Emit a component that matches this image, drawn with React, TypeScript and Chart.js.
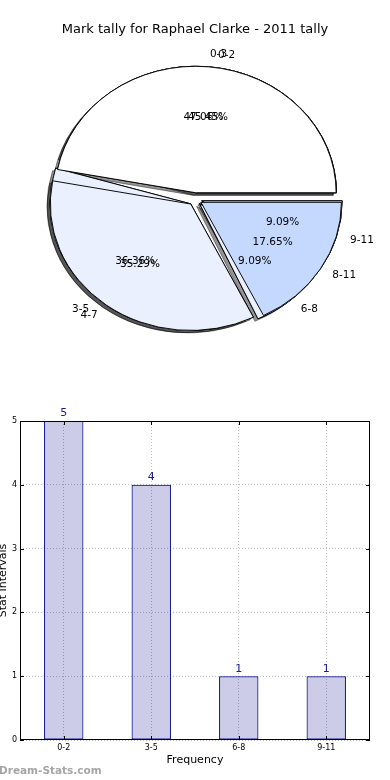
import React, { useEffect, useRef } from 'react';
import { Chart, registerables } from 'chart.js';

Chart.register(...registerables);

// ---------- data ----------
const chartTitle = 'Mark tally for Raphael Clarke - 2011 tally';
const intervalsA = ['0-2', '3-5', '6-8', '9-11'];
const tallyA = [5, 4, 1, 1];
const coloursA = ['#ffffff', '#eaf0fe', '#eaf0fe', '#c5d9fe'];
const intervalsB = ['0-3', '4-7', '8-11'];
const tallyB = [8, 6, 3];
const coloursB = ['#ffffff', '#eaf0fe', '#c5d9fe'];
const yTickValues = [0, 1, 2, 3, 4, 5];
const xAxisTitle = 'Frequency';
const yAxisTitle = 'Stat Intervals';
const watermark = 'Dream-Stats.com';

// ---------- style ----------
const FONT = '"DejaVu Sans", sans-serif';
const PIE_W = 390;
const PIE_H = 398;
const PIE_R = 140.5;
const PIE_SY = 0.9;
const EXPLODE = 7;
const BAR_H = 382;

// pies are drawn counter-clockwise from east like the original, so the
// slice order is reversed for Chart.js (clockwise, rotation 90 = east)
const rev = <T,>(a: T[]) => [...a].reverse();
const pieLabels = [rev(intervalsA), rev(intervalsB)];
const pieValues = [rev(tallyA), rev(tallyB)];
const pieColours = [rev(coloursA), rev(coloursB)];

const piePlugin = {
  id: 'explodedEllipsePies',
  beforeDatasetsDraw(chart: any) {
    const ctx = chart.ctx;
    const metas = pieValues.map((_v, i) => chart.getDatasetMeta(i));
    const drawArc = (arc: any, shadow: boolean) => {
      const p = arc.getProps(['x', 'y', 'startAngle', 'endAngle'], true);
      const mid = (p.startAngle + p.endAngle) / 2;
      ctx.save();
      if (shadow) {
        ctx.shadowColor = 'rgba(0,0,0,0.42)';
        ctx.shadowOffsetX = -3;
        ctx.shadowOffsetY = 2.5;
        ctx.shadowBlur = 0;
      }
      ctx.translate(0, p.y);
      ctx.scale(1, PIE_SY);
      ctx.translate(0, -p.y);
      ctx.translate(Math.cos(mid) * EXPLODE, Math.sin(mid) * EXPLODE);
      const inR = arc.innerRadius;
      const outR = arc.outerRadius;
      arc.innerRadius = 0;
      arc.outerRadius = PIE_R;
      arc.draw(ctx);
      arc.innerRadius = inR;
      arc.outerRadius = outR;
      ctx.restore();
    };
    metas.forEach((m: any) => m.data.forEach((a: any) => drawArc(a, true)));
    metas.forEach((m: any) => m.data.forEach((a: any) => drawArc(a, false)));
  },
  beforeDatasetDraw() {
    return false;
  },
  afterDatasetsDraw(chart: any) {
    const ctx = chart.ctx;
    ctx.save();
    ctx.font = `10.5px ${FONT}`;
    ctx.fillStyle = '#000';
    ctx.textBaseline = 'middle';
    pieValues.forEach((values, d) => {
      const total = values.reduce((a, b) => a + b, 0);
      const meta = chart.getDatasetMeta(d);
      meta.data.forEach((arc: any, i: number) => {
        const p = arc.getProps(['x', 'y', 'startAngle', 'endAngle'], true);
        const mid = (p.startAngle + p.endAngle) / 2;
        const c = Math.cos(mid);
        const s = Math.sin(mid);
        const lr = EXPLODE + 1.1 * PIE_R;
        ctx.textAlign = c > 0 ? 'left' : 'right';
        ctx.fillText(pieLabels[d][i], p.x + c * lr, p.y + s * lr * PIE_SY);
        const pr = EXPLODE + 0.6 * PIE_R;
        ctx.textAlign = 'center';
        ctx.fillText(((values[i] / total) * 100).toFixed(2) + '%', p.x + c * pr, p.y + s * pr * PIE_SY);
      });
    });
    ctx.font = `13px ${FONT}`;
    ctx.textAlign = 'center';
    ctx.fillText(chartTitle, PIE_W / 2, 30);
    ctx.restore();
  },
};

function pieConfig(): any {
  return {
    type: 'pie',
    data: {
      labels: pieLabels[0],
      datasets: pieValues.map((v, i) => ({
        data: v,
        backgroundColor: pieColours[i],
        borderColor: '#000',
        borderWidth: 1,
      })),
    },
    options: {
      animation: false,
      responsive: false,
      events: [],
      rotation: 90,
      radius: PIE_R,
      layout: { padding: 0 },
      plugins: { legend: { display: false }, tooltip: { enabled: false }, title: { display: false } },
    },
    plugins: [piePlugin],
  };
}

const barPlugin = {
  id: 'barDecor',
  afterDraw(chart: any) {
    const ctx = chart.ctx;
    const a = chart.chartArea;
    const xs = chart.scales.x;
    const ys = chart.scales.y;
    ctx.save();
    ctx.strokeStyle = '#000';
    ctx.lineWidth = 1;
    ctx.beginPath();
    xs.ticks.forEach((_t: any, i: number) => {
      const px = Math.round(xs.getPixelForTick(i)) + 0.5;
      ctx.moveTo(px, a.bottom);
      ctx.lineTo(px, a.bottom - 4);
      ctx.moveTo(px, a.top);
      ctx.lineTo(px, a.top + 4);
    });
    ys.ticks.forEach((_t: any, i: number) => {
      const py = Math.round(ys.getPixelForTick(i)) + 0.5;
      ctx.moveTo(a.left, py);
      ctx.lineTo(a.left + 4, py);
      ctx.moveTo(a.right, py);
      ctx.lineTo(a.right - 4, py);
    });
    ctx.stroke();
    ctx.strokeRect(a.left + 0.5, a.top + 0.5, a.right - a.left - 1, a.bottom - a.top - 1);
    const meta = chart.getDatasetMeta(0);
    ctx.font = `11px ${FONT}`;
    ctx.fillStyle = '#1a1a96';
    ctx.textAlign = 'center';
    ctx.textBaseline = 'bottom';
    meta.data.forEach((bar: any, i: number) => {
      const p = bar.getProps(['x', 'y'], true);
      ctx.fillText(String(tallyA[i]), p.x, p.y - 2);
    });
    ctx.font = `bold 10.5px ${FONT}`;
    ctx.fillStyle = '#a6a6a6';
    ctx.textAlign = 'left';
    ctx.textBaseline = 'middle';
    ctx.fillText(watermark, -1, 373);
    ctx.restore();
  },
};

function barConfig(): any {
  return {
    type: 'bar',
    data: {
      labels: intervalsA,
      datasets: [
        {
          data: tallyA,
          backgroundColor: 'rgba(0,0,139,0.2)',
          borderColor: '#00008b',
          borderWidth: 1,
          borderSkipped: false,
          barPercentage: 0.45,
          categoryPercentage: 1,
        },
      ],
    },
    options: {
      animation: false,
      responsive: false,
      events: [],
      layout: { padding: { top: 23, right: 20, left: 0, bottom: 0 } },
      plugins: { legend: { display: false }, tooltip: { enabled: false } },
      scales: {
        x: {
          offset: true,
          grid: { offset: false, color: '#bdbdbd', lineWidth: 1, drawTicks: false },
          border: { display: false, dash: [1, 2] },
          ticks: { font: { family: FONT, size: 8 }, color: '#000', padding: 3 },
          title: {
            display: true,
            text: xAxisTitle,
            font: { family: FONT, size: 11 },
            color: '#000',
            padding: { top: 0, bottom: 13.4 },
          },
          afterFit: (s: any) => {
            s.height = 40;
          },
        },
        y: {
          min: yTickValues[0],
          max: yTickValues[yTickValues.length - 1],
          afterBuildTicks: (s: any) => {
            s.ticks = yTickValues.map((v) => ({ value: v }));
          },
          grid: { color: '#bdbdbd', lineWidth: 1, drawTicks: false },
          border: { display: false, dash: [1, 2] },
          ticks: { font: { family: FONT, size: 8 }, color: '#000', padding: 3 },
          title: {
            display: true,
            text: yAxisTitle,
            font: { family: FONT, size: 11, lineHeight: 0.6 },
            color: '#000',
            padding: 0,
          },
          afterFit: (s: any) => {
            s.width = 20;
          },
        },
      },
    },
    plugins: [barPlugin],
  };
}

export default function App() {
  const pieRef = useRef<HTMLCanvasElement>(null);
  const barRef = useRef<HTMLCanvasElement>(null);

  useEffect(() => {
    const charts: Chart[] = [];
    if (pieRef.current) charts.push(new Chart(pieRef.current, pieConfig()));
    if (barRef.current) charts.push(new Chart(barRef.current, barConfig()));
    return () => charts.forEach((c) => c.destroy());
  }, []);

  const abs = (top: number, h: number): React.CSSProperties => ({
    position: 'absolute',
    left: 0,
    top,
    width: 390,
    height: h,
    display: 'block',
  });

  return (
    <div style={{ position: 'absolute', left: 0, top: 0, width: 390, height: 780, background: '#fff', overflow: 'hidden' }}>
      <canvas ref={pieRef} width={PIE_W} height={PIE_H} style={abs(0, PIE_H)} />
      <canvas ref={barRef} width={390} height={BAR_H} style={abs(PIE_H, BAR_H)} />
    </div>
  );
}
